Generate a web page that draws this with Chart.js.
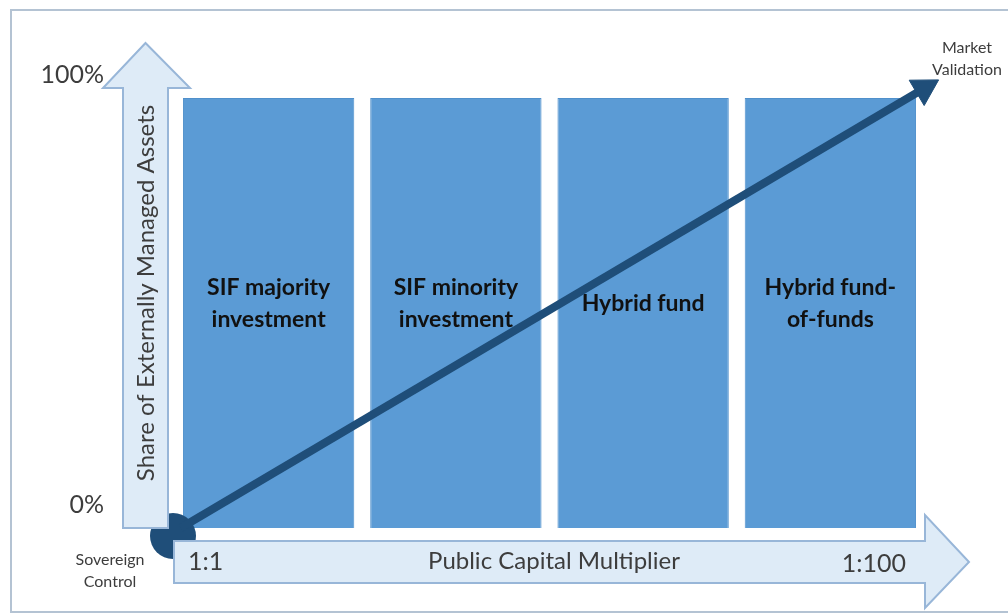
<!DOCTYPE html>
<html>
<head>
<meta charset="utf-8">
<script src="https://cdn.jsdelivr.net/npm/chart.js@4"></script>
<style>
  html, body { margin: 0; padding: 0; background: #fff; }
  canvas { display: block; }
</style>
</head>
<body>
<canvas id="chart" width="1008" height="614"></canvas>
<script>
// fund models along the multiplier axis
const categories = ['SIF majority investment', 'SIF minority investment', 'Hybrid fund', 'Hybrid fund-of-funds'];
const barLines = [['SIF majority', 'investment'], ['SIF minority', 'investment'], ['Hybrid fund'], ['Hybrid fund-', 'of-funds']];
const barPositions = [0.5, 1.5, 2.5, 3.5];
const shareValues = [100, 100, 100, 100];

// diagonal "sovereign control -> market validation" path (x in category units, y in %)
const pathX = [0.03, 4.0];
const pathY = [0, 102.2];

const yTickText = { 0: '0%', 100: '100%' };
const yTitle = 'Share of Externally Managed Assets';
const xTitle = 'Public Capital Multiplier';
const xEnds = ['1:1', '1:100'];
const startLabel = ['Sovereign', 'Control'];
const endLabel = ['Market', 'Validation'];

const FONT = 'Lato, "Open Sans", sans-serif';
const TEXT = '#3d3d3d';
const ARROW_FILL = '#deebf7';
const ARROW_LINE = '#98b6d8';
const DARK = '#1f4e79';

const decor = {
    id: 'decor',
    beforeDraw(chart) {
        const ctx = chart.ctx;
        ctx.save();
        ctx.strokeStyle = '#b4c3d3';
        ctx.lineWidth = 2;
        ctx.strokeRect(11, 10, 1100, 602);
        ctx.restore();
    },
    afterDatasetDraw(chart, args) {
        if (args.index !== 0) return;
        const ctx = chart.ctx;
        const ys = chart.scales.y;
        const area = chart.chartArea;
        const y0 = ys.getPixelForValue(0);

        ctx.save();
        // dark origin disc
        ctx.fillStyle = DARK;
        ctx.beginPath();
        ctx.arc(area.left - 2, y0 + 8, 23, 0, Math.PI * 2);
        ctx.fill();

        // vertical arrow
        const vx1 = area.left - 52, vx2 = area.left - 7, vmid = (vx1 + vx2) / 2;
        ctx.fillStyle = ARROW_FILL;
        ctx.strokeStyle = ARROW_LINE;
        ctx.lineWidth = 2;
        ctx.beginPath();
        ctx.moveTo(vx1, y0);
        ctx.lineTo(vx1, area.top - 10);
        ctx.lineTo(vx1 - 20, area.top - 10);
        ctx.lineTo(vmid, area.top - 55);
        ctx.lineTo(vx2 + 22, area.top - 10);
        ctx.lineTo(vx2, area.top - 10);
        ctx.lineTo(vx2, y0);
        ctx.closePath();
        ctx.fill();
        ctx.stroke();

        // horizontal arrow
        const hy1 = y0 + 13, hy2 = y0 + 55, hmid = (hy1 + hy2) / 2;
        ctx.beginPath();
        ctx.moveTo(area.left - 1, hy1);
        ctx.lineTo(area.right + 1, hy1);
        ctx.lineTo(area.right + 1, hy1 - 26);
        ctx.lineTo(area.right + 45, hmid);
        ctx.lineTo(area.right + 1, hy2 + 25);
        ctx.lineTo(area.right + 1, hy2);
        ctx.lineTo(area.left - 1, hy2);
        ctx.closePath();
        ctx.fill();
        ctx.stroke();

        // axis texts
        ctx.fillStyle = TEXT;
        ctx.textBaseline = 'middle';
        ctx.font = '24px ' + FONT;
        ctx.save();
        ctx.translate(vmid + 1, (area.top + y0) / 2 - 20);
        ctx.rotate(-Math.PI / 2);
        ctx.textAlign = 'center';
        ctx.fillText(yTitle, 0, 0);
        ctx.restore();

        ctx.textAlign = 'center';
        ctx.fillText(xTitle, 554, hmid - 1);
        ctx.font = '25px ' + FONT;
        ctx.textAlign = 'left';
        ctx.fillText(xEnds[0], area.left + 13, hmid);
        ctx.textAlign = 'right';
        ctx.fillText(xEnds[1], 906, hmid + 2);

        ctx.font = '16px ' + FONT;
        ctx.textAlign = 'center';
        ctx.fillText(startLabel[0], 110, y0 + 32);
        ctx.fillText(startLabel[1], 110, y0 + 54);
        ctx.fillText(endLabel[0], 967, 48);
        ctx.fillText(endLabel[1], 967, 70);

        // labels inside bars
        ctx.fillStyle = '#111';
        ctx.font = 'bold 23px ' + FONT;
        const meta = chart.getDatasetMeta(0);
        meta.data.forEach((bar, i) => {
            const lines = barLines[i];
            const cy = ys.getPixelForValue(52.2);
            lines.forEach((t, k) => {
                ctx.fillText(t, bar.x, cy + (k - (lines.length - 1) / 2) * 32);
            });
        });
        ctx.restore();
    }
};

new Chart(document.getElementById('chart'), {
    type: 'bar',
    data: {
        labels: categories,
        datasets: [
            {
                type: 'bar',
                data: barPositions.map((x, i) => ({ x: x, y: shareValues[i] })),
                backgroundColor: '#5b9bd5',
                borderColor: '#5090cb',
                borderWidth: 1,
                barPercentage: 0.915,
                categoryPercentage: 1,
                grouped: false,
                order: 1
            },
            {
                type: 'line',
                data: pathX.map((x, i) => ({ x: x, y: pathY[i] })),
                borderColor: DARK,
                borderWidth: 8,
                pointStyle: 'triangle',
                pointRadius: [0, 17],
                pointRotation: 59.4,
                pointBackgroundColor: DARK,
                pointBorderColor: DARK,
                pointBorderWidth: 1,
                clip: false,
                order: 0
            }
        ]
    },
    options: {
        responsive: false,
        animation: false,
        events: [],
        layout: { padding: { top: 98, right: 84, bottom: 86, left: 0 } },
        plugins: { legend: { display: false }, tooltip: { enabled: false } },
        scales: {
            x: {
                type: 'linear',
                display: false,
                offset: false,
                min: 0,
                max: 4,
                ticks: { stepSize: 1 }
            },
            y: {
                min: 0,
                max: 100,
                afterFit: (scale) => { scale.width = 175; },
                grid: { display: false, drawTicks: false },
                border: { display: false },
                ticks: {
                    stepSize: 100,
                    padding: 71,
                    labelOffset: -23,
                    color: TEXT,
                    font: { family: FONT, size: 25 },
                    callback: (v) => yTickText[v] ?? ''
                }
            }
        }
    },
    plugins: [decor]
});
</script>
</body>
</html>
